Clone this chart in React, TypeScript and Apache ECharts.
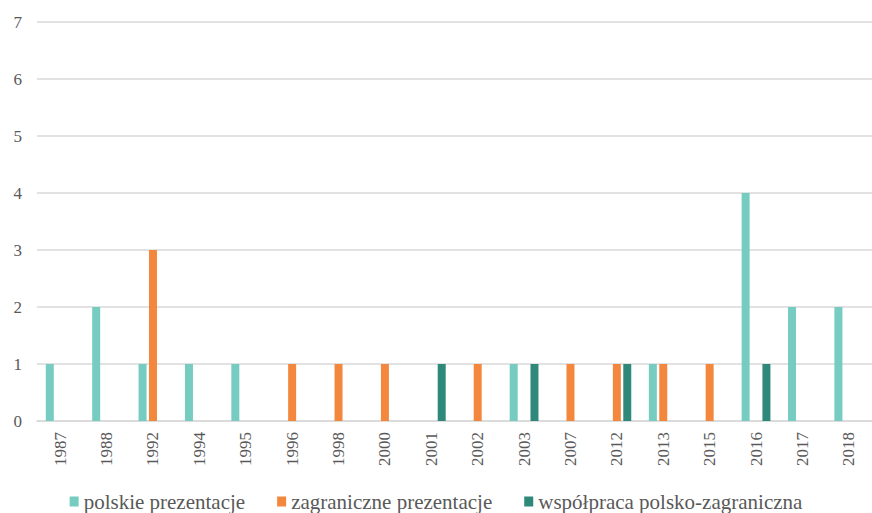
import React, { useEffect, useRef } from "react";
import * as echarts from "echarts";

const years = ["1987", "1988", "1992", "1994", "1995", "1996", "1998", "2000", "2001", "2002", "2003", "2007", "2012", "2013", "2015", "2016", "2017", "2018"];
const polskie = [1, 2, 1, 1, 1, 0, 0, 0, 0, 0, 1, 0, 0, 1, 0, 4, 2, 2];
const zagraniczne = [0, 0, 3, 0, 0, 1, 1, 1, 0, 1, 0, 1, 1, 1, 1, 0, 0, 0];
const wspolpraca = [0, 0, 0, 0, 0, 0, 0, 0, 1, 0, 1, 0, 1, 0, 0, 1, 0, 0];
const seriesNames = ["polskie prezentacje", "zagraniczne prezentacje", "współpraca polsko-zagraniczna"];
const seriesColors = ["#76CCC0", "#F3873E", "#2F897A"];

const FONT = "'Liberation Serif', 'DejaVu Serif', Times, serif";
const TEXT = "#595959";

export default function App() {
  const ref = useRef<HTMLDivElement>(null);

  useEffect(() => {
    if (!ref.current) return;
    const chart = echarts.init(ref.current, null, { renderer: "svg" });
    const values = [polskie, zagraniczne, wspolpraca];
    chart.setOption({
      animation: false,
      textStyle: { fontFamily: FONT, color: TEXT },
      grid: { left: 37, right: 0, top: 22, bottom: 92, containLabel: false },
      legend: {
        top: 486,
        left: "center",
        itemWidth: 9,
        itemHeight: 10,
        itemGap: 32,
        icon: "rect",
        textStyle: { fontFamily: FONT, fontSize: 21, color: TEXT },
        data: seriesNames,
      },
      xAxis: {
        type: "category",
        data: years,
        axisTick: { show: false },
        axisLine: { lineStyle: { color: "#d9d9d9", width: 1.5 } },
        axisLabel: { rotate: 90, margin: 11, fontFamily: FONT, fontSize: 17, color: TEXT },
      },
      yAxis: {
        type: "value",
        min: 0,
        max: 7,
        interval: 1,
        axisLine: { show: false },
        axisTick: { show: false },
        splitLine: { lineStyle: { color: "#d9d9d9", width: 1.5 } },
        axisLabel: { margin: 15, fontFamily: FONT, fontSize: 17, color: TEXT },
      },
      series: seriesNames.map((name, i) => ({
        name,
        type: "bar",
        data: values[i],
        barWidth: 8,
        barGap: "30%",
        itemStyle: { color: seriesColors[i] },
      })),
    });
    return () => chart.dispose();
  }, []);

  return <div ref={ref} style={{ width: 872, height: 513, position: "absolute", left: 0, top: 0, fontFamily: FONT }} />;
}
